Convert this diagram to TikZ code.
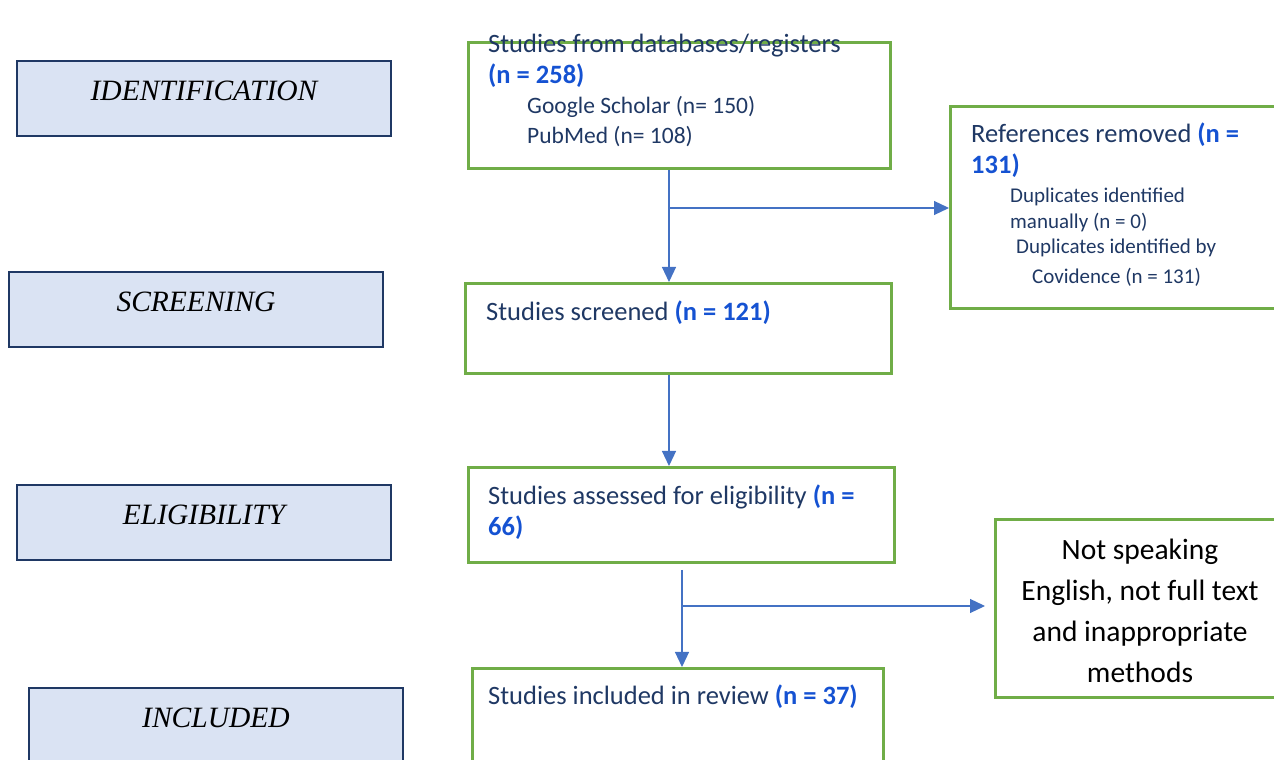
\documentclass[tikz,border=0pt]{standalone}
\usepackage{fontspec}
\setmainfont{Carlito}
\newfontfamily\stagefont{Liberation Serif}
\usepackage{xcolor}
\usetikzlibrary{arrows.meta,positioning,calc}
\definecolor{stagefill}{HTML}{DAE3F3}
\definecolor{stageline}{HTML}{1F3864}
\definecolor{boxgreen}{HTML}{70AD47}
\definecolor{flowblue}{HTML}{4472C4}
\definecolor{textnavy}{HTML}{1F3864}
\definecolor{nblue}{HTML}{1552D2}
\newcommand{\nval}[1]{\textbf{\textcolor{nblue}{#1}}}

\begin{document}
\begin{tikzpicture}[x=1pt,y=1pt,
  stage/.style={draw=stageline,line width=2pt,fill=stagefill,minimum width=374pt,
    minimum height=75pt,text height=20pt,text depth=15pt,
    font=\stagefont\itshape\fontsize{29.5}{32}\selectfont},
  stepbox/.style={draw=boxgreen,line width=2.6pt,anchor=north west,inner sep=0pt},
  txt/.style={anchor=base west,align=left,inner sep=0pt,text=textnavy,
    font=\fontsize{26.5}{31}\selectfont},
  sub/.style={txt,font=\fontsize{23.5}{30}\selectfont},
  small/.style={txt,font=\fontsize{21}{25.5}\selectfont},
  >={Triangle[length=15pt,width=14pt]},
  flow/.style={draw=flowblue,line width=1.2pt,->}]
  \useasboundingbox (0,0) rectangle (1274,760);
  % stage labels
  \node[stage] (idlab)  at (204,661.5) {IDENTIFICATION};
  \node[stage] (scrlab) at (196,450.5) {SCREENING};
  \node[stage] (elilab) at (204,237.5) {ELIGIBILITY};
  \node[stage] (inclab) at (216,34.5)  {INCLUDED};
  % boxes
  \node[stepbox,minimum width=422pt,minimum height=126pt] (srch) at (467,719) {};
  \node[stepbox,minimum width=335pt,minimum height=202pt] (recs) at (949,655) {};
  \node[stepbox,minimum width=426pt,minimum height=90pt]  (scr)  at (464,478) {};
  \node[stepbox,minimum width=426pt,minimum height=95pt]  (elig) at (467,294) {};
  \node[stepbox,minimum width=290pt,minimum height=178pt] (excl) at (994,242) {};
  \node[stepbox,minimum width=411pt,minimum height=110pt] (incl) at (471,93)  {};
  % texts (multi-line: base is the last line)
  \node[txt] (srcht) at (488,676.5) {Studies from databases/registers\\\nval{(n = 258)}};
  \node[sub] (srchs) at (527,616.5) {Google Scholar (n= 150)\\PubMed (n= 108)};
  \node[txt] (recst) at (971,586.5) {References removed \nval{(n =}\\\nval{131)}};
  \node[small] (recss) at (1010,476) {Duplicates identified\\manually (n = 0)\\
    \hspace*{6pt}Duplicates identified by\\[4.5pt]\hspace*{22pt}Covidence (n = 131)};
  \node[txt] (scrt) at (486,439.5) {Studies screened \nval{(n = 121)}};
  \node[txt] (eligt) at (488,224.5) {Studies assessed for eligibility \nval{(n =}\\\nval{66)}};
  \node[txt] (inclt) at (488,55) {Studies included in review \nval{(n = 37)}};
  \node[txt,anchor=base,align=center,text=black,font=\fontsize{29.5}{41}\selectfont]
    (exclt) at (1140,77.5) {Not speaking\\English, not full text\\and inappropriate\\methods};
  % connectors
  \coordinate (ax1) at (669,0);
  \coordinate (br1) at (669,552);
  \coordinate (st3) at (682,190);
  \coordinate (br3) at (682,154);
  \draw[flow] (srch.south -| ax1) -- (scr.north -| ax1);
  \draw[flow] (br1) -- (br1 -| recs.west);
  \draw[flow] (scr.south -| ax1) -- (elig.north -| ax1);
  \draw[flow] (st3) -- (incl.north -| st3);
  \draw[flow,shorten >=9pt] (br3) -- (br3 -| excl.west);
\end{tikzpicture}
\end{document}
